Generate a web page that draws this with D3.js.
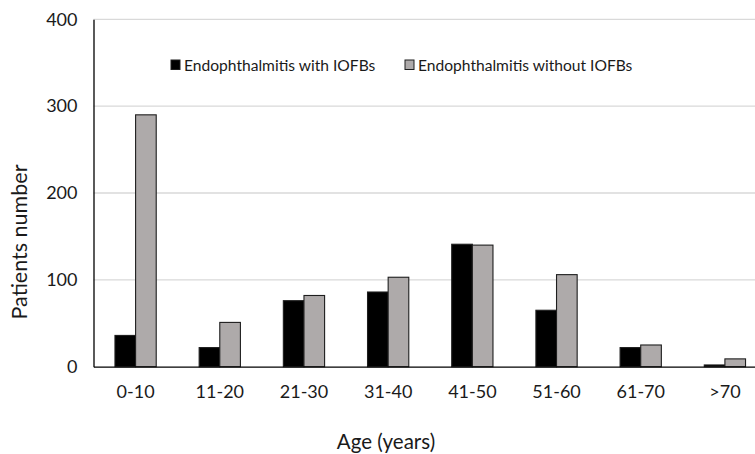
<!DOCTYPE html>
<html><head><meta charset="utf-8">
<script src="https://cdn.jsdelivr.net/npm/d3@7"></script>
<style>body{margin:0;background:#fff}svg{display:block}text{font-family:Lato,"Open Sans",sans-serif;fill:#1a1a1a}</style>
</head><body>
<script>
const categories = ["0-10","11-20","21-30","31-40","41-50","51-60","61-70",">70"];
const withIOFB = [36, 22, 76, 86, 141, 65, 22, 2];
const withoutIOFB = [290, 51, 82, 103, 140, 106, 25, 9];
const seriesNames = ["Endophthalmitis with IOFBs","Endophthalmitis without IOFBs"];
const yTicks = [0,100,200,300,400];

const W=755,H=454;
const svg=d3.select("body").append("svg").attr("width",W).attr("height",H);
const x=d3.scaleBand().domain(categories).range([93.5,767]).paddingInner(0.51).paddingOuter(0.255);
const y=d3.scaleLinear().domain([0,400]).range([366.7,19.3]);
const xs=d3.scaleBand().domain([0,1]).range([0,x.bandwidth()]);

// grid
svg.append("g").selectAll("line").data(yTicks.slice(1)).join("line")
  .attr("x1",93.5).attr("x2",W).attr("y1",d=>y(d)).attr("y2",d=>y(d))
  .attr("stroke","#d9d9d9").attr("stroke-width",1.3);

const series=[withIOFB,withoutIOFB];
const fills=["#000000","#aeaaaa"];
series.forEach((vals,si)=>{
  svg.append("g").selectAll("rect").data(vals).join("rect")
    .attr("x",(d,i)=>x(categories[i])+xs(si))
    .attr("width",xs.bandwidth())
    .attr("y",d=>y(d)).attr("height",d=>y(0)-y(d))
    .attr("fill",fills[si]).attr("stroke","#1e1e1e").attr("stroke-width",1.1);
});

// axes
const yAxis=svg.append("g").attr("transform","translate(93.5,0)")
  .call(d3.axisLeft(y).tickValues(yTicks).tickSize(0).tickPadding(16));
yAxis.select(".domain").attr("stroke","#000").attr("stroke-width",1.3);
yAxis.selectAll("text").style("font-size","18px").attr("fill","#1a1a1a");

const xAxis=svg.append("g").attr("transform","translate(0,366.7)")
  .call(d3.axisBottom(x).tickSize(0).tickPadding(19));
xAxis.select(".domain").attr("stroke","#000").attr("stroke-width",1.3);
xAxis.selectAll("text").style("font-size","18px").attr("fill","#1a1a1a");

svg.append("text").attr("x",386).attr("y",449).attr("text-anchor","middle")
  .style("font-size","20.5px").text("Age (years)");
svg.append("text").attr("transform","translate(27,242) rotate(-90)").attr("text-anchor","middle")
  .style("font-size","21.5px").text("Patients number");

// legend
const leg=[{x:171,t:seriesNames[0],f:fills[0]},{x:405,t:seriesNames[1],f:fills[1]}];
const lg=svg.append("g").selectAll("g").data(leg).join("g");
lg.append("rect").attr("x",d=>d.x).attr("y",60).attr("width",9).attr("height",9.5)
  .attr("fill",d=>d.f).attr("stroke","#1e1e1e").attr("stroke-width",1);
lg.append("text").attr("x",d=>d.x+13).attr("y",71).style("font-size","15.6px").text(d=>d.t);
</script>
</body></html>
